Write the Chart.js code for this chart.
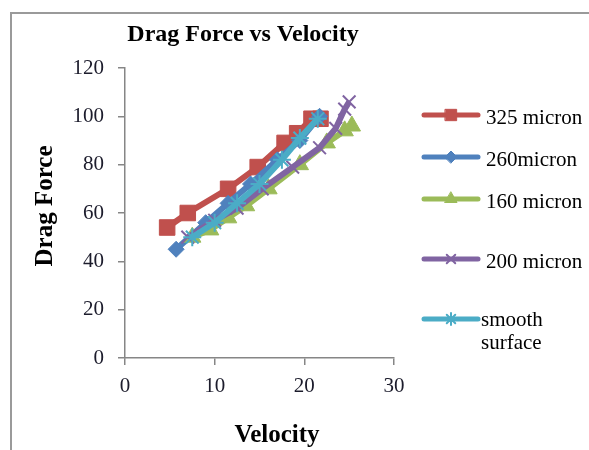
<!DOCTYPE html>
<html>
<head>
<meta charset="utf-8">
<script src="https://cdn.jsdelivr.net/npm/chart.js@4.4.0/dist/chart.umd.min.js"></script>
<style>
  html, body { margin: 0; padding: 0; background: #fff; }
  #wrap { position: relative; width: 589px; height: 450px; overflow: hidden; }
  #frame { position: absolute; left: 10px; top: 12px; width: 700px; height: 600px; border: 2px solid #9a9a9a; box-sizing: border-box; }
  canvas { position: absolute; left: 0; top: 0; }
</style>
</head>
<body>
<div id="wrap">
  <div id="frame"></div>
  <canvas id="dragChart" width="589" height="450"></canvas>
</div>
<script>
const seriesNames = ['325 micron', '260micron', '160 micron', '200 micron', 'smooth surface'];

const vel325 = [4.7, 7, 11.5, 14.8, 17.8, 19.2, 20.8, 21.8];
const force325 = [54, 60, 70, 79, 89, 93, 99, 99];

const vel260 = [5.7, 9, 11.5, 14, 17, 19.5, 21.7];
const force260 = [45, 56, 64, 72, 82, 90, 100];

const vel160 = [7.5, 9.5, 11.5, 13.5, 16, 19.5, 22.5, 24.5, 25.3];
const force160 = [50, 53, 58, 63, 70, 80, 89, 94, 96];

const vel200 = [7, 10, 12.5, 15.3, 18.7, 21.7, 23.5, 24.5, 25];
const force200 = [50, 57, 62, 70, 79, 87, 95, 103, 106];

const velSmooth = [7.5, 10, 12.5, 15, 17.5, 19.5, 21.5];
const forceSmooth = [50, 56, 64, 72, 82, 91, 99];

const xTicks = [0, 10, 20, 30];
const yTicks = [0, 20, 40, 60, 80, 100, 120];

const serif = '"Liberation Serif", "DejaVu Serif", serif';

function pairUp(xs, ys) {
    return xs.map((x, i) => ({x: x, y: ys[i]}));
}

function makeSet(label, xs, ys, color, style, radius, order) {
    return {
        label: label,
        data: pairUp(xs, ys),
        showLine: true,
        borderColor: color,
        backgroundColor: color,
        borderWidth: 6,
        pointStyle: style,
        pointRadius: radius,
        pointBorderWidth: style === 'crossRot' || style === 'star' ? 2 : 1,
        pointBorderColor: color,
        pointBackgroundColor: color,
        order: order
    };
}

// legend rows, drawn by hand to keep the uneven spacing of the original
const legendRows = [115, 157, 199, 259, 319];
const legendMarkerSize = [8, 6, 7, 6, 6];

function drawTexts(chart) {
    const ctx = chart.ctx;
    ctx.save();
    ctx.fillStyle = '#000';
    ctx.textAlign = 'center';
    ctx.textBaseline = 'middle';
    ctx.font = 'bold 24px ' + serif;
    ctx.fillText('Drag Force vs Velocity', 243, 35);
    ctx.font = 'bold 25px ' + serif;
    ctx.fillText('Velocity', 277, 436);
    ctx.save();
    ctx.translate(46, 206);
    ctx.rotate(-Math.PI / 2);
    ctx.fillText('Drag Force', 0, 0);
    ctx.restore();

    // legend
    ctx.font = '21px ' + serif;
    ctx.textAlign = 'left';
    chart.data.datasets.forEach((ds, i) => {
        const y = legendRows[i];
        ctx.strokeStyle = ds.borderColor;
        ctx.lineWidth = 5;
        ctx.lineCap = 'round';
        ctx.beginPath();
        ctx.moveTo(424, y);
        ctx.lineTo(478, y);
        ctx.stroke();
        ctx.fillStyle = ds.borderColor;
        ctx.lineWidth = ds.pointBorderWidth;
        Chart.helpers.drawPoint(ctx, {
            pointStyle: ds.pointStyle,
            radius: legendMarkerSize[i],
            borderWidth: ds.pointBorderWidth
        }, 451, y);
        ctx.fillStyle = '#000';
        if (i === 4) {
            ctx.fillText('smooth', 481, y + 1);
            ctx.fillText('surface', 481, y + 24);
        } else {
            ctx.fillText(ds.label, 486, y + 3);
        }
    });
    ctx.restore();
}

const ctx = document.getElementById('dragChart').getContext('2d');

const axisColor = '#868686';

new Chart(ctx, {
    type: 'scatter',
    data: {
        datasets: [
            makeSet(seriesNames[0], vel325, force325, '#C0504D', 'rect', 11, 5),
            makeSet(seriesNames[1], vel260, force260, '#4F81BD', 'rectRot', 8, 4),
            makeSet(seriesNames[2], vel160, force160, '#9BBB59', 'triangle', 10, 3),
            makeSet(seriesNames[3], vel200, force200, '#8064A2', 'crossRot', 9, 2),
            makeSet(seriesNames[4], velSmooth, forceSmooth, '#4BACC6', 'star', 9, 1)
        ]
    },
    options: {
        responsive: false,
        animation: false,
        layout: {
            padding: {left: 65, right: 195, top: 68, bottom: 42}
        },
        plugins: {
            legend: {display: false},
            title: {display: false},
            tooltip: {enabled: false}
        },
        scales: {
            x: {
                type: 'linear',
                min: 0,
                max: 30,
                afterBuildTicks: (scale) => {
                    scale.ticks = xTicks.map(v => ({value: v}));
                },
                afterFit: (scale) => { scale.height = 50; },
                border: {color: axisColor, width: 1.5},
                grid: {drawOnChartArea: false, drawTicks: true, tickLength: 7, color: axisColor, lineWidth: 1.5},
                ticks: {
                    font: {family: serif, size: 21},
                    color: '#1c1c2c',
                    padding: 9,
                    maxRotation: 0
                }
            },
            y: {
                min: 0,
                max: 120,
                afterBuildTicks: (scale) => {
                    scale.ticks = yTicks.map(v => ({value: v}));
                },
                afterFit: (scale) => { scale.width = 60; },
                border: {color: axisColor, width: 1.5},
                grid: {drawOnChartArea: false, drawTicks: true, tickLength: 7, color: axisColor, lineWidth: 1.5},
                ticks: {
                    font: {family: serif, size: 21},
                    color: '#1c1c2c',
                    padding: 14
                }
            }
        }
    },
    plugins: [{
        id: 'chartTexts',
        afterDraw(chart) {
            drawTexts(chart);
        }
    }]
});
</script>
</body>
</html>
